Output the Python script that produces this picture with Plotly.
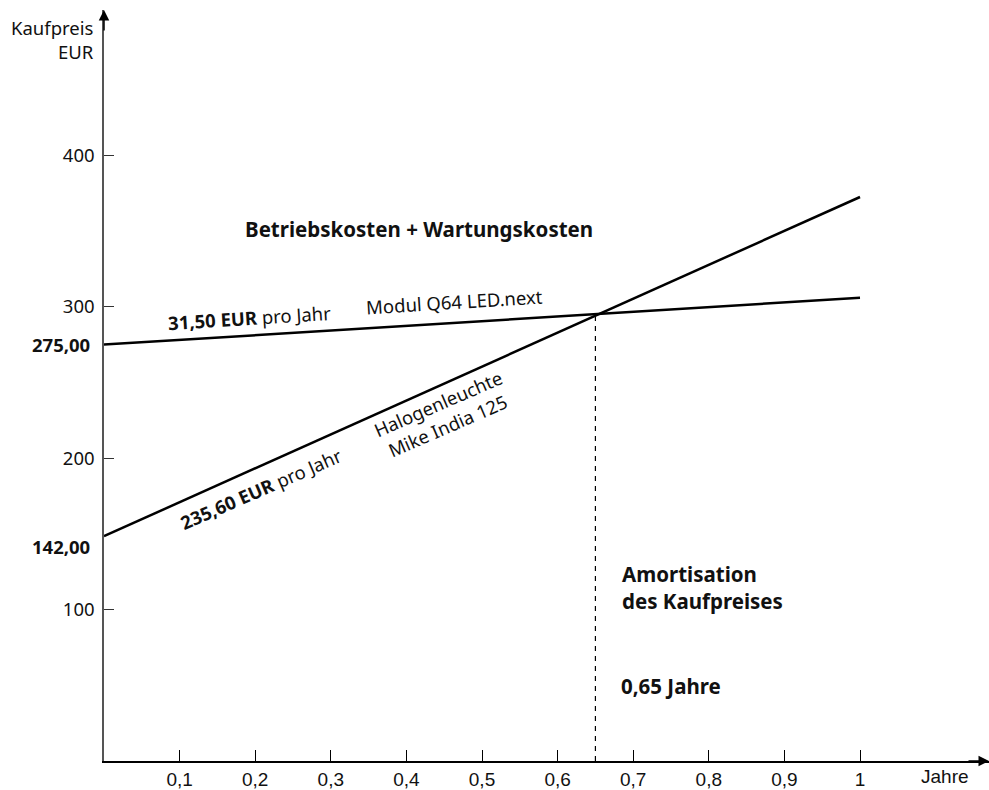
import plotly.graph_objects as go

# Data (as drawn in the chart)
years = [0, 1]
led_cost = [275.0, 306.0]          # Modul Q64 LED.next: 31,50 EUR pro Jahr
halogen_cost = [148.5, 372.5]      # Halogenleuchte Mike India 125: 235,60 EUR pro Jahr
break_even_year = 0.65
x_tick_vals = [0.1, 0.2, 0.3, 0.4, 0.5, 0.6, 0.7, 0.8, 0.9, 1.0]
x_tick_text = ["0,1", "0,2", "0,3", "0,4", "0,5", "0,6", "0,7", "0,8", "0,9", "1"]
y_tick_vals = [100, 200, 300, 400]
y_tick_text = ["100", "200", "300", "400"]
start_labels = ["275,00", "142,00"]
start_label_values = [275.0, 142.0]

be_value = led_cost[0] + (led_cost[1] - led_cost[0]) * break_even_year

X_MAX = 1.1706
Y_MAX = 496

FONT = "Noto Sans"
TICKFONT = "Liberation Sans"

fig = go.Figure()
fig.add_trace(go.Scatter(x=years, y=led_cost, mode="lines",
                         line=dict(color="black", width=2.5), hoverinfo="skip"))
fig.add_trace(go.Scatter(x=years, y=halogen_cost, mode="lines",
                         line=dict(color="black", width=2.5), hoverinfo="skip"))
fig.add_trace(go.Scatter(x=[break_even_year, break_even_year], y=[0, be_value], mode="lines",
                         line=dict(color="black", width=1.2, dash="5px,5px"), hoverinfo="skip"))

ann = []
def txt(text, x, y, size=16, angle=0, xanchor="center", yanchor="middle", align="center",
        font=FONT, color="#111", xref="x", yref="y", xshift=0, yshift=0):
    ann.append(dict(text=text, x=x, y=y, xref=xref, yref=yref, showarrow=False,
                    textangle=angle, xanchor=xanchor, yanchor=yanchor, align=align,
                    xshift=xshift, yshift=yshift,
                    font=dict(family=font, size=size, color=color)))

txt("<b>Betriebskosten + Wartungskosten</b>", 0.416, 351.4, size=20.5)
txt("<b>31,50 EUR</b> pro Jahr", 0.193, 292.6, size=18.5, angle=-3.6)
txt("Modul Q64 LED.next", 0.464, 303.2, size=18.5, angle=-3.6)
txt("<b>235,60 EUR</b> pro Jahr", 0.208, 180, size=18.5, angle=-23.5)
txt("Halogenleuchte<br>Mike India 125", 0.448, 229, size=18.5, angle=-23.5)
txt("<b>Amortisation<br>des Kaufpreises</b>", 0.683, 114.3, size=20.5, xanchor="left", align="left")
txt("<b>0,65 Jahre</b>", 0.681, 49.5, size=20.5, xanchor="left", align="left")
txt("Jahre", 1.112, 0, size=19, font=TICKFONT, yref="paper", yshift=-15)
txt("Kaufpreis<br>EUR", 0, 476.5, size=18.5, xanchor="right", align="right",
    xref="paper", xshift=-8)
txt("<b>" + start_labels[0] + "</b>", 0, start_label_values[0], size=18.5, xanchor="right",
    align="right", xref="paper", xshift=-12)
txt("<b>" + start_labels[1] + "</b>", 0, start_label_values[1], size=18.5, xanchor="right",
    align="right", xref="paper", xshift=-12)

# axis arrows
ann.append(dict(x=0, y=Y_MAX, xref="x", yref="y", ax=0, ay=22,
                showarrow=True, arrowhead=2, arrowsize=1.4, arrowwidth=1.5,
                arrowcolor="black", text=""))
ann.append(dict(x=X_MAX, y=0, xref="x", yref="y", ax=-22, ay=0,
                showarrow=True, arrowhead=2, arrowsize=1.4, arrowwidth=1.5,
                arrowcolor="black", text=""))

fig.update_layout(
    width=989, height=790,
    margin=dict(l=104, r=0, t=10, b=29),
    paper_bgcolor="white", plot_bgcolor="white",
    showlegend=False,
    annotations=ann,
    xaxis=dict(range=[0, X_MAX], showgrid=False, zeroline=False,
               showline=True, linecolor="black", linewidth=1.5,
               ticks="inside", ticklen=11, tickwidth=1.2, tickcolor="black",
               tickvals=x_tick_vals, ticktext=x_tick_text,
               tickfont=dict(family=TICKFONT, size=19, color="#111"),
               ticklabelstandoff=0, fixedrange=True, automargin=False),
    yaxis=dict(range=[0, Y_MAX], showgrid=False, zeroline=False,
               showline=True, linecolor="#555", linewidth=1.5,
               ticks="inside", ticklen=10, tickwidth=1.2, tickcolor="#333",
               tickvals=y_tick_vals, ticktext=y_tick_text,
               tickfont=dict(family=FONT, size=18.5, color="#111"),
               ticklabelstandoff=4, fixedrange=True, automargin=False),
)

fig.write_html("out.html", config={"displayModeBar": False},
               post_script="document.body.style.margin='0';document.body.style.overflow='hidden';")
